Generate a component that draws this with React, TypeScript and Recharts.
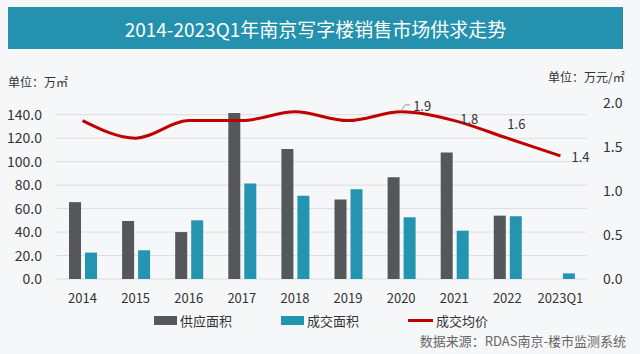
import { ComposedChart, Bar, Line, XAxis, YAxis, CartesianGrid, LabelList } from 'recharts';

const years = ['2014', '2015', '2016', '2017', '2018', '2019', '2020', '2021', '2022', '2023Q1'];
const supplyArea = [65.5, 49.5, 40, 141.5, 110.7, 67.7, 86.8, 107.8, 54, 0];
const dealArea = [22.5, 24.5, 50, 81.4, 70.9, 76.5, 52.6, 41.2, 53.5, 4.8];
const avgPrice = [1.8, 1.6, 1.8, 1.8, 1.9, 1.8, 1.9, 1.8, 1.6, 1.4];
const leftTicks = [0, 20, 40, 60, 80, 100, 120, 140];
const rightTicks = [0, 0.5, 1.0, 1.5, 2.0];

const data = years.map((y, i) => ({
  year: y,
  supply: supplyArea[i],
  deal: dealArea[i],
  price: avgPrice[i],
}));

const FONT = '"Noto Sans CJK SC", "Noto Sans", sans-serif';
const DARK = '#54585b';
const TEAL = '#2495b1';
const RED = '#c00000';

// only the last four points carry a value label, each nudged by hand
const labelOffsets: Record<number, [number, number]> = {
  6: [21, -6],
  7: [15, -2],
  8: [9, -15],
  9: [20, 1],
};

function PriceLabel(props: any) {
  const { x, y, index, value } = props;
  const off = labelOffsets[index];
  if (!off) return null;
  return (
    <g>
      {index === 6 && (
        <path d={`M${x} ${y - 1} L${x + 4} ${y - 7} L${x + 9} ${y - 7}`} stroke="#999" fill="none" strokeWidth={1} />
      )}
      <text
        x={x + off[0]}
        y={y + off[1]}
        textAnchor="middle"
        dominantBaseline="central"
        fontSize={13}
        fill="#333"
        fontFamily={FONT}
      >
        {Number(value).toFixed(1)}
      </text>
    </g>
  );
}

function ChartLegend() {
  const item = (swatch: JSX.Element, label: string) => (
    <div style={{ display: 'flex', alignItems: 'center', gap: 3, width: 127 }}>
      {swatch}
      <span>{label}</span>
    </div>
  );
  return (
    <div
      style={{
        position: 'absolute',
        left: 154,
        top: 311,
        display: 'flex',
        fontSize: 13,
        color: '#333',
      }}
    >
      {item(<div style={{ width: 23, height: 9, background: DARK }} />, '供应面积')}
      {item(<div style={{ width: 23, height: 9, background: TEAL }} />, '成交面积')}
      {item(<div style={{ width: 25, height: 2.5, background: RED }} />, '成交均价')}
    </div>
  );
}

export default function App() {
  return (
    <div
      style={{
        position: 'absolute',
        left: 0,
        top: 0,
        width: 640,
        height: 354,
        background: '#f6f7f8',
        fontFamily: FONT,
        overflow: 'hidden',
      }}
    >
      <div
        style={{
          position: 'absolute',
          left: 8,
          top: 7,
          width: 615,
          height: 42,
          background: '#2491ae',
          color: '#fff',
          fontSize: 19,
          display: 'flex',
          alignItems: 'center',
          justifyContent: 'center',
        }}
      >
        2014-2023Q1年南京写字楼销售市场供求走势
      </div>
      <div style={{ position: 'absolute', left: 8, top: 73, fontSize: 12, color: '#333' }}>单位：万㎡</div>
      <div style={{ position: 'absolute', left: 548, top: 68, fontSize: 12, color: '#333' }}>单位：万元/㎡</div>
      <div style={{ position: 'absolute', right: 14, top: 331, fontSize: 13, color: '#666' }}>
        数据来源：RDAS南京-楼市监测系统
      </div>
      <div style={{ position: 'absolute', left: 0, top: 0 }}>
        <ComposedChart
          width={640}
          height={354}
          data={data}
          margin={{ top: 103, right: 0, bottom: 45, left: 0 }}
          barGap={4}
          barSize={12}
        >
          <CartesianGrid yAxisId="left" vertical={false} stroke="#dcdde0" horizontalValues={leftTicks} />
          <XAxis
            dataKey="year"
            axisLine={false}
            tickLine={false}
            tickMargin={9}
            height={30}
            interval={0}
            tick={{ fill: '#333', fontSize: 13, fontFamily: FONT }}
          />
          <YAxis
            yAxisId="left"
            width={56}
            domain={[0, 150]}
            ticks={leftTicks}
            interval={0}
            axisLine={false}
            tickLine={false}
            tickMargin={8}
            tickFormatter={(v: number) => v.toFixed(1)}
            tick={{ fill: '#333', fontSize: 14, fontFamily: FONT }}
          />
          <YAxis
            yAxisId="right"
            orientation="right"
            width={53}
            domain={[0, 2]}
            ticks={rightTicks}
            interval={0}
            axisLine={false}
            tickLine={false}
            tickMargin={10}
            tickFormatter={(v: number) => v.toFixed(1)}
            tick={{ fill: '#333', fontSize: 14, fontFamily: FONT, textAnchor: 'start' }}
          />
          <Bar yAxisId="left" dataKey="supply" name="供应面积" fill={DARK} isAnimationActive={false} />
          <Bar yAxisId="left" dataKey="deal" name="成交面积" fill={TEAL} isAnimationActive={false} />
          <Line
            yAxisId="right"
            type="monotone"
            dataKey="price"
            name="成交均价"
            stroke={RED}
            strokeWidth={3}
            dot={false}
            activeDot={false}
            isAnimationActive={false}
          >
            <LabelList dataKey="price" content={PriceLabel} />
          </Line>
        </ComposedChart>
      </div>
      <ChartLegend />
    </div>
  );
}
